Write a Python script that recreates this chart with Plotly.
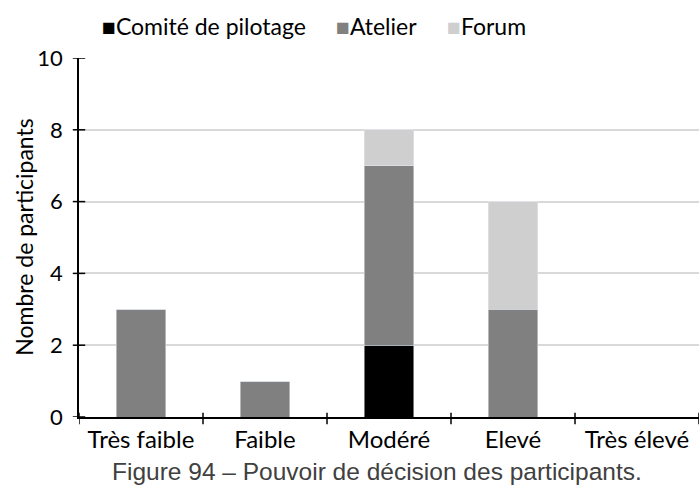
import plotly.graph_objects as go

categories = ["Très faible", "Faible", "Modéré", "Elevé", "Très élevé"]
series_names = ["Comité de pilotage", "Atelier", "Forum"]
comite = [0, 0, 2, 0, 0]
atelier = [3, 1, 5, 3, 0]
forum = [0, 0, 1, 3, 0]
y_ticks = [0, 2, 4, 6, 8, 10]
colors = ["#000000", "#808080", "#d0cfd0"]
y_title = "Nombre de participants"
caption = "Figure 94 – Pouvoir de décision des participants."

FONT = "Lato"

fig = go.Figure()
for name, vals, col in zip(series_names, [comite, atelier, forum], colors):
    fig.add_bar(x=categories, y=vals, name=name, marker_color=col)

# cross-shaped tick marks on both axes
shapes = []
for v in y_ticks:
    shapes.append(dict(type="line", xref="paper", yref="y", x0=-0.01, x1=0.01,
                       y0=v, y1=v, line=dict(color="black", width=1.5)))
for i in range(len(categories) + 1):
    shapes.append(dict(type="line", xref="x", yref="paper", x0=i - 0.5, x1=i - 0.5,
                       y0=-0.02, y1=0.012, line=dict(color="black", width=1.5)))

# compact legend: coloured square glyph followed by the series name
legend_x = [0.034, 0.411, 0.590]
annotations = []
for name, col, lx in zip(series_names, colors, legend_x):
    annotations.append(dict(
        text=f'<span style="color:{col}">■</span>{name}',
        xref="paper", yref="paper", x=lx, y=1.088, xanchor="left", yanchor="middle",
        showarrow=False, font=dict(family=FONT, size=23, color="black")))

# vertical y-axis title
annotations.append(dict(text=y_title, textangle=-90, xref="paper", yref="paper",
                        x=-0.09, y=0.5, xanchor="center", yanchor="middle",
                        showarrow=False, font=dict(family=FONT, size=23, color="black")))

annotations.append(dict(text=caption,
                        xref="paper", yref="paper", x=0.48, y=-0.152, xanchor="center",
                        yanchor="middle", showarrow=False,
                        font=dict(family="Liberation Sans", size=24.5, color="#404040")))

fig.update_layout(
    width=699, height=493,
    margin=dict(l=79, r=0, t=58, b=76),
    barmode="stack",
    bargap=0.6,
    plot_bgcolor="white",
    paper_bgcolor="white",
    font=dict(family=FONT, size=22, color="black"),
    showlegend=False,
    xaxis=dict(range=[-0.5, 4.5], showline=True, linecolor="black", linewidth=1.5,
               ticks="", tickfont=dict(size=24), fixedrange=True, automargin=False),
    yaxis=dict(range=[0, 10], tickvals=y_ticks, showline=True, linecolor="black",
               linewidth=1.5, ticks="", showgrid=True, gridcolor="#d9d9d9", gridwidth=1.5,
               zeroline=False, tickfont=dict(size=22), automargin=False,
               ticklabelstandoff=10),
    shapes=shapes,
    annotations=annotations,
)

fig.write_html("out.html")
